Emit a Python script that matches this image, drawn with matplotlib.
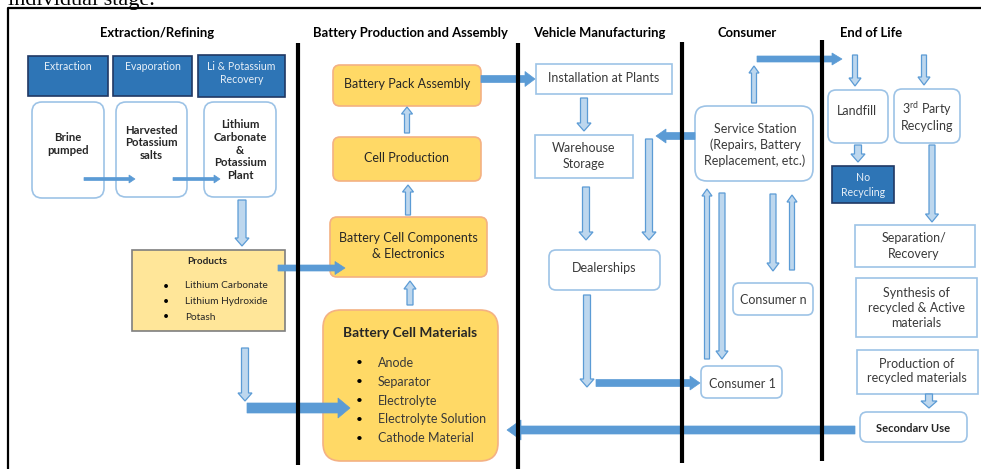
import matplotlib
matplotlib.use("Agg")
import matplotlib.pyplot as plt
from matplotlib.patches import FancyBboxPatch, Rectangle, FancyArrow

plt.rcParams['font.family'] = ['Lato', 'DejaVu Sans']
plt.rcParams['mathtext.fontset'] = 'custom'
plt.rcParams['mathtext.rm'] = 'Lato'

# colours
BLUE_HDR = '#2E75B6'
BLUE_EDGE = '#9DC3E6'
ARROW = '#5B9BD5'
ARROW_LIGHT = '#BDD7EE'
ORANGE = '#FFD966'
ORANGE_EDGE = '#F4B183'
TXT = '#3A3A3A'
FS = 9.0  # regular box text

# section titles along the top
titles = ["Extraction/Refining", "Battery Production and Assembly",
          "Vehicle Manufacturing", "Consumer", "End of Life"]
title_x = [157, 410, 599, 747, 871]

# vertical dividers between stages
divider_x = [298, 518, 682, 822]
divider_top = [43, 43, 42, 40]
divider_bot = [465, 469, 463, 461]

# extraction steps
step_labels = ["Extraction", "Evaporation", "Li & Potassium\nRecovery"]
step_boxes = [(28, 56, 108, 96), (113, 56, 192, 96), (198, 55, 285, 97)]
stage_labels = ["Brine\npumped", "Harvested\nPotassium\nsalts",
                "Lithium\nCarbonate\n&\nPotassium\nPlant"]
stage_boxes = [(32, 102, 104, 198), (116, 102, 187, 197), (204, 102, 276, 197)]
stage_text_y = [144, 143, 150]

products_title = "Products"
products = ["Lithium Carbonate", "Lithium Hydroxide", "Potash"]

battery_labels = ["Battery Pack Assembly", "Cell Production",
                  "Battery Cell Components\n& Electronics"]
battery_boxes = [(333, 65, 481, 106), (333, 137, 481, 181), (330, 217, 487, 277)]
materials_title = "Battery Cell Materials"
materials = ["Anode", "Separator", "Electrolyte", "Electrolyte Solution",
             "Cathode Material"]

fig = plt.figure(figsize=(9.81, 4.69), dpi=100)
ax = fig.add_axes([0, 0, 1, 1])
ax.set_xlim(0, 981)
ax.set_ylim(469, 0)
ax.axis('off')


def box(x0, y0, x1, y1, fc='white', ec=BLUE_EDGE, r=0, lw=1.2):
    if r > 0:
        p = FancyBboxPatch((x0, y0), x1 - x0, y1 - y0,
                           boxstyle=f"round,pad=0,rounding_size={r}",
                           fc=fc, ec=ec, lw=lw, zorder=2)
    else:
        p = Rectangle((x0, y0), x1 - x0, y1 - y0, fc=fc, ec=ec, lw=lw, zorder=2)
    ax.add_patch(p)


def solid(x0, y0, x1, y1, w, hw, hl):
    ax.add_patch(FancyArrow(x0, y0, x1 - x0, y1 - y0, width=w, head_width=hw,
                            head_length=hl, length_includes_head=True,
                            fc=ARROW, ec=ARROW, lw=0.5, zorder=3))


def hollow(x, y0, y1, w=6, hw=13, hl=8):
    ax.add_patch(FancyArrow(x, y0, 0, y1 - y0, width=w, head_width=hw,
                            head_length=hl, length_includes_head=True,
                            fc=ARROW_LIGHT, ec=ARROW, lw=0.9, zorder=3))


def label(x, y, s, fs=FS, **kw):
    kw.setdefault('color', TXT)
    ax.text(x, y, s, ha=kw.pop('ha', 'center'), va='center', fontsize=fs,
            linespacing=kw.pop('linespacing', 1.3), zorder=5, **kw)


# cut-off caption line above the frame (clipped in the original too)
ax.text(8, 5, "individual stage.", family='Liberation Serif', fontsize=16,
        va='baseline', ha='left', color='black', clip_on=True)

# outer frame
ax.plot([8, 8, 981], [469, 8, 8], color='black', lw=1.6, zorder=1)

for t, x in zip(titles, title_x):
    label(x, 33, t, fs=9.4, fontweight='bold', color='black')

for x, t, b in zip(divider_x, divider_top, divider_bot):
    ax.plot([x, x], [t, b], color='black', lw=3, zorder=4, solid_capstyle='butt')

# --- Extraction / Refining
for lab, (x0, y0, x1, y1) in zip(step_labels, step_boxes):
    box(x0, y0, x1, y1, fc=BLUE_HDR, ec='#203864', lw=1.2)
    label((x0 + x1) / 2, 67 if '\n' not in lab else 73, lab, fs=7.6,
          color='#E8F0F8')

for lab, (x0, y0, x1, y1), ty in zip(stage_labels, stage_boxes, stage_text_y):
    box(x0, y0, x1, y1, r=10)
    label((x0 + x1) / 2, ty, lab, fs=8.2, fontweight='bold', color='#262626',
          linespacing=1.2)

solid(84, 179, 135, 179, 3, 8, 6)
solid(173, 179, 220, 179, 3, 8, 6)
hollow(242, 200, 246, w=8, hw=14, hl=8)

box(132, 250, 285, 331, fc='#FFE699', ec='#7F7F7F', lw=1.2)
label(207, 261, products_title, fs=7.2, fontweight='bold', color='#262626')
for i, p in enumerate(products):
    y = 286 + 15.5 * i
    label(166, y, u"\u2022", fs=7.5, color='black')
    label(185, y, p, fs=7.3, ha='left', color='#262626')

hollow(245, 348, 401, w=7, hw=14, hl=8)
solid(278, 268, 345, 268, 6, 13, 10)
solid(247, 408, 350, 408, 10, 20, 12)

# --- Battery production
for lab, (x0, y0, x1, y1) in zip(battery_labels, battery_boxes):
    box(x0, y0, x1, y1, fc=ORANGE, ec=ORANGE_EDGE, r=7, lw=1.2)
    label((x0 + x1) / 2, (y0 + y1) / 2 - 1, lab, color='#262626')

box(323, 310, 498, 461, fc=ORANGE, ec=ORANGE_EDGE, r=18, lw=1.2)
label(410, 333, materials_title, fs=9.9, fontweight='bold', color='#262626')
for i, m in enumerate(materials):
    y = 363 + 18.8 * i
    label(359, y, u"\u2022", fs=8.5, color='black')
    label(378, y, m, ha='left')

hollow(407, 133, 107, w=5, hw=11, hl=7)
hollow(408, 215, 185, w=5, hw=11, hl=7)
hollow(410, 305, 281, w=6, hw=12, hl=8)
solid(481, 79, 535, 79, 7, 15, 10)

# --- Vehicle manufacturing
box(536, 64, 672, 94)
label(604, 78, "Installation at Plants")
box(535, 135, 633, 178)
label(584, 156, "Warehouse\nStorage")
box(549, 250, 660, 290, r=7)
label(604, 268, "Dealerships")

hollow(584, 98, 131, w=7, hw=14, hl=8)
hollow(586, 187, 240, w=7, hw=14, hl=8)
hollow(649, 139, 240, w=7, hw=14, hl=8)
hollow(587, 295, 387, w=7, hw=14, hl=8)
solid(596, 383, 700, 383, 7, 14, 10)
solid(695, 136, 656, 136, 7, 14, 10)

# --- Consumer
box(695, 106, 813, 181, r=12)
label(755, 145, "Service Station\n(Repairs, Battery\nReplacement, etc.)",
      linespacing=1.3)
box(701, 366, 782, 398, r=6)
label(742, 384, "Consumer 1")
box(733, 283, 813, 315, r=6)
label(773, 300, "Consumer n")

hollow(754, 103, 66, w=5, hw=10, hl=7)
solid(757, 59, 842, 59, 6, 12, 10)
hollow(707, 359, 189, w=5, hw=10, hl=7)
hollow(722, 193, 359, w=6, hw=12, hl=8)
hollow(773, 194, 271, w=6, hw=12, hl=8)
hollow(792, 270, 195, w=5, hw=10, hl=7)

# --- End of life
hollow(855, 55, 86, w=5, hw=12, hl=8)
hollow(924, 55, 85, w=5, hw=12, hl=8)
box(828, 90, 888, 143, r=8)
label(857, 111, "Landfill")
box(894, 89, 960, 143, r=8)
label(927, 109, r"3$^{\mathrm{rd}}$ Party")
label(927, 126, "Recycling")
hollow(858, 145, 162, w=7, hw=14, hl=8)
box(832, 166, 894, 203, fc=BLUE_HDR, ec='#203864', lw=1.2)
label(863, 185, "No\nRecycling", fs=7.6, color='#E8F0F8', linespacing=1.4)
hollow(932, 145, 222, w=6, hw=13, hl=8)

box(855, 225, 975, 267)
label(914, 246, "Separation/\nRecovery")
box(856, 278, 977, 337)
label(916, 308, "Synthesis of\nrecycled & Active\nmaterials")
box(857, 350, 978, 394)
label(917, 371, "Production of\nrecycled materials")
hollow(929, 394, 408, w=7, hw=16, hl=7)
box(860, 412, 967, 442, r=7)
label(913, 428, "Secondarv Use", fs=8, fontweight='bold', color='#262626')

solid(855, 430, 507, 430, 8, 20, 14)

fig.savefig("out.png", dpi=100)
